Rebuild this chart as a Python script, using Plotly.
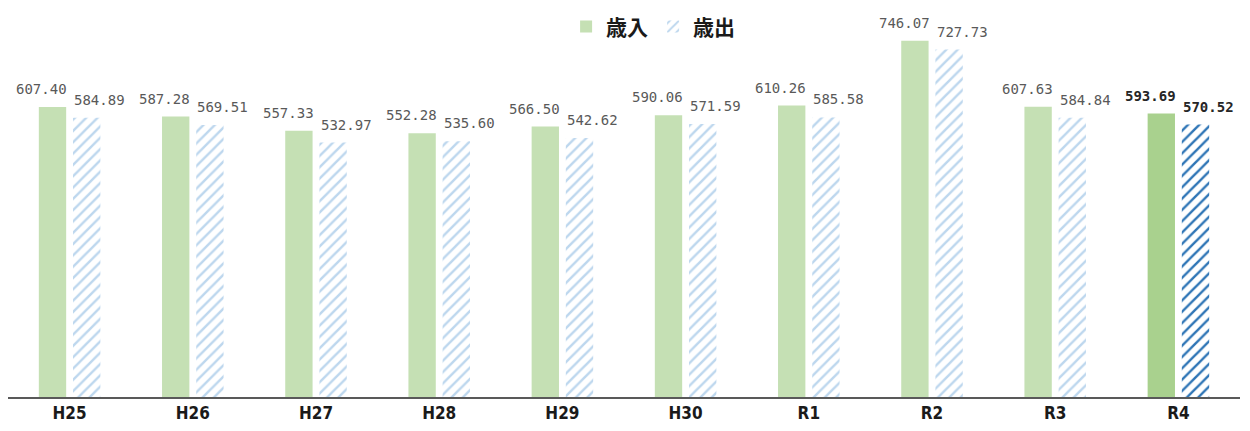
import plotly.graph_objects as go

categories = ["H25", "H26", "H27", "H28", "H29", "H30", "R1", "R2", "R3", "R4"]
income = [607.40, 587.28, 557.33, 552.28, 566.50, 590.06, 610.26, 746.07, 607.63, 593.69]
expense = [584.89, 569.51, 532.97, 535.60, 542.62, 571.59, 585.58, 727.73, 584.84, 570.52]

n = len(categories)
inc_colors = ["#c5e0b4"] * (n - 1) + ["#a9d18e"]
exp_fg = ["#bdd7ee"] * (n - 1) + ["#2e75b6"]

fig = go.Figure()
fig.add_trace(go.Bar(
    name="歳入", x=categories, y=income,
    marker=dict(color=inc_colors, line=dict(width=0)),
))
fig.add_trace(go.Bar(
    name="歳出", x=categories, y=expense,
    marker=dict(color="white", line=dict(width=0),
                pattern=dict(shape="/", fgcolor=exp_fg, bgcolor="white",
                             size=8, solidity=0.3, fillmode="replace")),
))

label_font = "DejaVu Sans Mono"
for i, c in enumerate(categories):
    last = i == n - 1
    for val, xs, ys in ((income[i], -28, 8), (expense[i], 30, 8)):
        fig.add_annotation(
            x=c, y=val, text=f"{val:.2f}", showarrow=False,
            xanchor="center", yanchor="bottom", xshift=xs, yshift=ys,
            font=dict(family=label_font, size=14,
                      color="#262626" if last else "#595959",
                      weight="bold" if last else "normal"),
        )

fig.update_layout(
    width=1250, height=431,
    margin=dict(l=0, r=18, t=7, b=42, autoexpand=False),
    paper_bgcolor="white", plot_bgcolor="white",
    barmode="group", bargap=0.445, bargroupgap=0.2,
    showlegend=True,
    legend=dict(orientation="h", x=0.453, xanchor="left", y=0.969, yanchor="middle",
                font=dict(family="Noto Sans CJK JP", size=21, color="#1a1a1a", weight="bold"),
                itemwidth=30, bgcolor="rgba(0,0,0,0)"),
    xaxis=dict(showline=True, linecolor="#595959", linewidth=1.5, ticks="",
               tickfont=dict(family="DejaVu Sans Condensed", size=17, color="#1a1a1a", weight="bold"),
               showgrid=False, automargin=False),
    yaxis=dict(range=[0, 800], visible=False, showgrid=False, automargin=False),
)

fig.write_html("out.html")
